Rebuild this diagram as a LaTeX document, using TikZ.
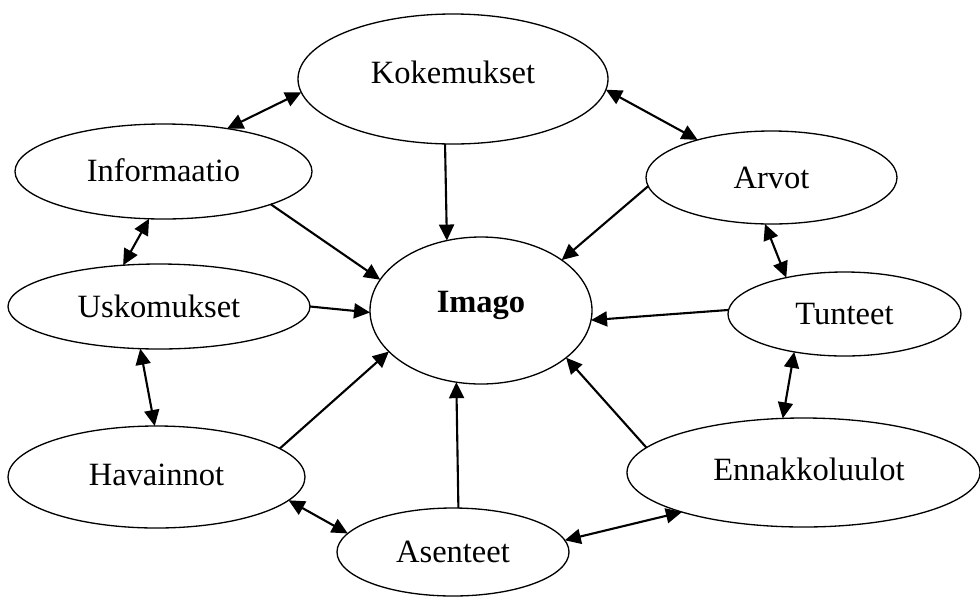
\documentclass[tikz,border=0pt]{standalone}
\usepackage{fontspec}
\setmainfont{Liberation Serif}
\usepackage{tikz}
\usetikzlibrary{arrows.meta, shapes.geometric}

\begin{document}
\begin{tikzpicture}[
    % Styles
    blob/.style={draw, ellipse, line width=0.75pt, inner sep=0pt, outer sep=0pt,
                 font=\fontsize{18.5}{22}\selectfont},
    arrow/.style={-{Triangle[length=3.2mm, width=3mm]}, line width=1.2pt},
    twoway/.style={{Triangle[length=3.2mm, width=3mm]}-{Triangle[length=3.2mm, width=3mm]}, line width=1.2pt}
  ]
    \useasboundingbox (0,0) rectangle (19.6,-11.94);

    % === Centre ===
    \node[blob, minimum width=44.4mm, minimum height=29.4mm] (imago) at (9.62,-6.21) {\raisebox{0.34cm}{\textbf{Imago}}};

    % === Surrounding ellipses ===
    \node[blob, minimum width=62mm, minimum height=26mm] (kok) at (9.06,-1.58) {\raisebox{0.28cm}{Kokemukset}};
    \node[blob, minimum width=59.4mm, minimum height=19mm] (info) at (3.27,-3.43) {\raisebox{0.07cm}{Informaatio}};
    \node[blob, minimum width=50.2mm, minimum height=18.6mm] (arvot) at (15.43,-3.55) {Arvot};
    \node[blob, minimum width=60.4mm, minimum height=17mm] (usk) at (3.18,-6.13) {Uskomukset};
    \node[blob, minimum width=46.6mm, minimum height=16.8mm] (tun) at (16.89,-6.28) {Tunteet};
    \node[blob, minimum width=59.4mm, minimum height=20.4mm] (hav) at (3.13,-9.54) {\raisebox{0.1cm}{Havainnot}};
    \node[blob, minimum width=70.6mm, minimum height=21.8mm] (enn) at (16.07,-9.45) {\hspace{0.22cm}\raisebox{0.15cm}{Ennakkoluulot}};
    \node[blob, minimum width=46.4mm, minimum height=17.6mm] (ase) at (9.06,-11.04) {Asenteet};

    % === Arrows into Imago ===
    \draw[arrow] (kok.263.8) -- (imago.116.4);
    \draw[arrow] (info.343.8) -- (imago.163.5);
    \draw[arrow] (arvot.184.2) -- (imago.32.2);
    \draw[arrow] (usk.0.6) -- (imago.181.8);
    \draw[arrow] (tun.178.8) -- (imago.355.1);
    \draw[arrow] (hav.13.6) -- (imago.204.8);
    \draw[arrow] (ase.83.9) -- (imago.251.4);
    \draw[arrow] (enn.171.5) -- (imago.331);

    % === Two-way links round the ring ===
    \draw[twoway] (kok.185.4) -- (info.34);
    \draw[twoway] (kok.356.3) -- (arvot.153.6);
    \draw[twoway] (info.253.4) -- (usk.131.9);
    \draw[twoway] (arvot.262.4) -- (tun.148.1);
    \draw[twoway] (usk.246.4) -- (hav.92.75);
    \draw[twoway] (tun.217) -- (enn.111.3);
    \draw[twoway] (hav.350.2) -- (ase.170.1);
    \draw[twoway] (ase.6.6) -- (enn.198.2);

  \end{tikzpicture}
\end{document}
